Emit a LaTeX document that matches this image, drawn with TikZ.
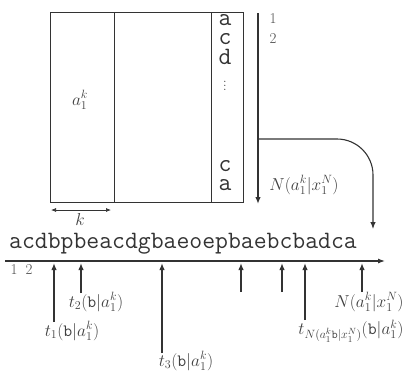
\documentclass[tikz,border=0pt]{standalone}
\usetikzlibrary{arrows.meta}
\begin{document}
\begin{tikzpicture}[x=1pt,y=-1pt,
  ln/.style={draw=black!80,line width=0.9pt},
  arr/.style={draw=black!80,line width=1.4pt,-{Latex[length=7pt,width=5.5pt]}},
  dim/.style={draw=black!80,line width=0.7pt,{Latex[length=5pt,width=4pt]}-{Latex[length=5pt,width=4pt]}},
  seq/.style={inner sep=0pt,font=\fontsize{25}{28}\selectfont\ttfamily,text=black!80},
  col/.style={inner sep=0pt,font=\fontsize{25}{28}\selectfont\ttfamily,text=black!80},
  lab/.style={inner sep=0pt,font=\fontsize{18}{20}\selectfont,text=black!75},
  num/.style={inner sep=0pt,font=\fontsize{15}{16}\selectfont,text=black!70}]
\useasboundingbox (0,0) rectangle (412,373);
% box
\draw[ln] (50,12) rectangle (243,202);
\draw[ln] (114,12) -- (114,202);
\draw[ln] (211,12) -- (211,202);
\node[lab] (alab) at (80,100) {$a_1^k$};
% column letters
\node[col] (c1) at (225,20) {a};
\node[col] (c2) at (225,39) {c};
\node[col] (c3) at (225,57) {d};
\node[lab,font=\fontsize{13}{14}\selectfont] (c4) at (225,83) {$\vdots$};
\node[col] (c5) at (225,166) {c};
\node[col] (c6) at (225,185) {a};
% k dimension
\coordinate (k1) at (51,210);
\coordinate (k2) at (111,210);
\draw[dim] (k1) -- (k2);
\node[lab] (klab) at (80,219) {$k$};
% vertical arrow
\coordinate (v1) at (258,13);
\coordinate (v2) at (258,204);
\draw[arr] (v1) -- (v2);
\node[num] (n1) at (273,19) {1};
\node[num] (n2) at (273,39) {2};
\node[lab] (nlab) at (304,185) {$N(a_1^k|x_1^N)$};
% curved arrow
\coordinate (cv1) at (258,139);
\coordinate (cv2) at (373,139);
\coordinate (cv3) at (373,229);
\draw[ln,line width=1.1pt,rounded corners=36pt,-{Latex[length=7pt,width=5.5pt]}] (cv1) -- (cv2) -- (cv3);
% sequence
\node[seq,anchor=base west] (seq) at (9,248) {acdbpbeacdgbaeoepbaebcbadca};
% axis
\coordinate (a1) at (5,261);
\coordinate (a2) at (385,261);
\draw[ln,line width=1.1pt,-{Latex[length=7pt,width=5pt]}] (a1) -- (a2);
\node[num] (n12a) at (14,270) {1};
\node[num] (n12b) at (29,270) {2};
% up arrows
\foreach \n/\x/\y in {u1/54/322,u2/81/293,u3/162/353,u4/241/292,u5/282/292,u6/305/320,u7/362/292}{
  \coordinate (\n b) at (\x,\y);
  \coordinate (\n t) at (\x,263);
  \draw[arr] (\n b) -- (\n t);
}
\node[lab] (l1) at (72,331) {$t_1(\mathtt{b}|a_1^k)$};
\node[lab] (l2) at (96,302) {$t_2(\mathtt{b}|a_1^k)$};
\node[lab] (l3) at (186,361) {$t_3(\mathtt{b}|a_1^k)$};
\node[lab] (l6) at (351,331) {$t_{N(a_1^k\mathtt{b}|x_1^N)}(\mathtt{b}|a_1^k)$};
\node[lab] (l7) at (369,302) {$N(a_1^k|x_1^N)$};
\end{tikzpicture}
\end{document}
